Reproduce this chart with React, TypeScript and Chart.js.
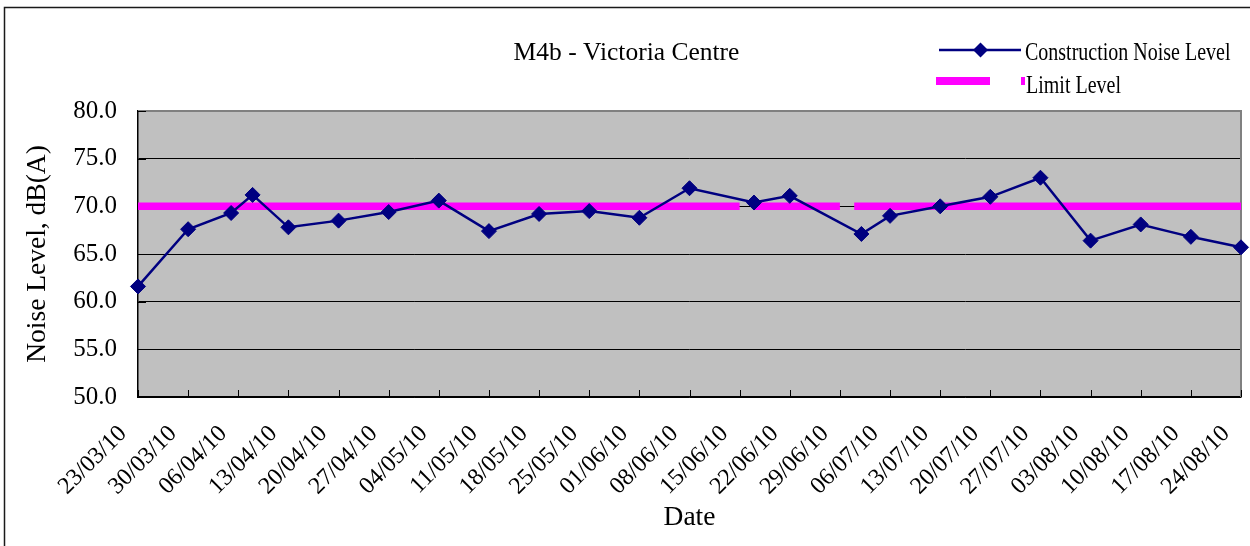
import React, { useEffect, useRef } from 'react';
import { Chart, registerables } from 'chart.js';

Chart.register(...registerables);

// ---- data ----
const chartTitle = 'M4b - Victoria Centre';
const yAxisTitle = 'Noise Level, dB(A)';
const xAxisTitle = 'Date';
const noiseLabel = 'Construction Noise Level';
const limitLabel = 'Limit Level';

const noiseDates = [
  '23/03/10', '30/03/10', '05/04/10', '08/04/10', '13/04/10', '20/04/10', '27/04/10',
  '04/05/10', '11/05/10', '18/05/10', '25/05/10', '01/06/10', '08/06/10', '17/06/10',
  '22/06/10', '02/07/10', '06/07/10', '13/07/10', '20/07/10', '27/07/10', '03/08/10',
  '10/08/10', '17/08/10', '24/08/10',
];
const noiseValues = [
  61.6, 67.6, 69.3, 71.2, 67.8, 68.5, 69.4,
  70.6, 67.4, 69.2, 69.5, 68.8, 71.9, 70.4,
  71.1, 67.1, 69.0, 70.0, 71.0, 73.0, 66.4,
  68.1, 66.8, 65.7,
];

const limitDates = ['23/03/10', '15/06/10', '16/06/10', '17/06/10', '29/06/10', '30/06/10', '01/07/10', '24/08/10'];
const limitValues = [70, 70, null, 70, 70, null, 70, 70];

const xTickLabels = [
  '23/03/10', '30/03/10', '06/04/10', '13/04/10', '20/04/10', '27/04/10', '04/05/10',
  '11/05/10', '18/05/10', '25/05/10', '01/06/10', '08/06/10', '15/06/10', '22/06/10',
  '29/06/10', '06/07/10', '13/07/10', '20/07/10', '27/07/10', '03/08/10', '10/08/10',
  '17/08/10', '24/08/10',
];
const yTickValues = [50, 55, 60, 65, 70, 75, 80];

// ---- helpers ----
const toUTC = (s: string) => {
  const [d, m, y] = s.split('/').map(Number);
  return Date.UTC(2000 + y, m - 1, d);
};
const BASE = toUTC(xTickLabels[0]);
const dayIndex = (s: string) => Math.round((toUTC(s) - BASE) / 86400000);

const FONT = '"Liberation Serif", "Times New Roman", serif';
const NAVY = '#000080';
const MAGENTA = '#FF00FF';

const backgroundPlugin = {
  id: 'excelBackground',
  beforeDraw(chart: any) {
    const { ctx, chartArea } = chart;
    ctx.save();
    ctx.fillStyle = '#ffffff';
    ctx.fillRect(0, 0, chart.width, chart.height);
    ctx.fillStyle = '#C0C0C0';
    ctx.fillRect(chartArea.left, chartArea.top, chartArea.right - chartArea.left, chartArea.bottom - chartArea.top);
    // outer chart border (top & left visible)
    ctx.strokeStyle = '#1a1a1a';
    ctx.lineWidth = 1.5;
    ctx.strokeRect(4.5, 7.5, chart.width + 20, chart.height + 20);
    ctx.restore();
  },
  beforeDatasetsDraw(chart: any) {
    const { ctx, chartArea, scales } = chart;
    ctx.save();
    // gray plot border top & right
    ctx.strokeStyle = '#808080';
    ctx.lineWidth = 2;
    ctx.beginPath();
    ctx.moveTo(chartArea.left, chartArea.top);
    ctx.lineTo(chartArea.right, chartArea.top);
    ctx.lineTo(chartArea.right, chartArea.bottom);
    ctx.stroke();
    // inside tick marks
    ctx.strokeStyle = '#000';
    ctx.lineWidth = 1;
    ctx.beginPath();
    scales.x.ticks.forEach((t: any) => {
      const px = Math.round(scales.x.getPixelForValue(t.value)) + 0.5;
      ctx.moveTo(px, chartArea.bottom);
      ctx.lineTo(px, chartArea.bottom - 7);
    });
    scales.y.ticks.forEach((t: any) => {
      const py = Math.round(scales.y.getPixelForValue(t.value)) + 0.5;
      ctx.moveTo(chartArea.left, py);
      ctx.lineTo(chartArea.left + 8, py);
    });
    ctx.stroke();
    ctx.restore();
  },
};

const legendPlugin = {
  id: 'excelLegend',
  afterDraw(chart: any) {
    const { ctx, chartArea } = chart;
    const x0 = chartArea.right - 302; // start of first legend line
    ctx.save();
    // item 1: line + diamond
    ctx.strokeStyle = NAVY;
    ctx.lineWidth = 2.5;
    ctx.beginPath();
    ctx.moveTo(x0, 50);
    ctx.lineTo(x0 + 82, 50);
    ctx.stroke();
    ctx.fillStyle = NAVY;
    const cx = x0 + 41.5;
    const r = 7.5;
    ctx.beginPath();
    ctx.moveTo(cx - r, 50);
    ctx.lineTo(cx, 50 - r);
    ctx.lineTo(cx + r, 50);
    ctx.lineTo(cx, 50 + r);
    ctx.closePath();
    ctx.fill();
    // item 2: magenta bar + tiny mark
    ctx.fillStyle = MAGENTA;
    ctx.fillRect(x0 - 3, 77, 54, 8);
    ctx.fillRect(x0 + 82, 77, 4, 8);
    // texts (condensed like the original font)
    ctx.fillStyle = '#000';
    ctx.font = `25px ${FONT}`;
    ctx.textBaseline = 'alphabetic';
    ctx.textAlign = 'left';
    ctx.save();
    ctx.translate(x0 + 86, 60);
    ctx.scale(0.8, 1);
    ctx.fillText(noiseLabel, 0, 0);
    ctx.restore();
    ctx.save();
    ctx.translate(x0 + 87, 93);
    ctx.scale(0.8, 1);
    ctx.fillText(limitLabel, 0, 0);
    ctx.restore();
    ctx.restore();
  },
};

export default function App() {
  const canvasRef = useRef<HTMLCanvasElement | null>(null);

  useEffect(() => {
    document.body.style.margin = '0';
    const canvas = canvasRef.current;
    if (!canvas) return;

    const noiseData = noiseDates.map((d, i) => ({ x: dayIndex(d), y: noiseValues[i] }));
    const limitData = limitDates.map((d, i) => ({ x: dayIndex(d), y: limitValues[i] }));

    const chart = new Chart(canvas, {
      type: 'line',
      data: {
        datasets: [
          {
            label: noiseLabel,
            data: noiseData as any,
            borderColor: NAVY,
            backgroundColor: NAVY,
            borderWidth: 2.5,
            pointStyle: 'rectRot',
            pointRadius: 7.5,
            pointBorderWidth: 1,
            pointBorderColor: NAVY,
            pointBackgroundColor: NAVY,
            tension: 0,
            clip: false as any,
          },
          {
            label: limitLabel,
            data: limitData as any,
            borderColor: MAGENTA,
            backgroundColor: MAGENTA,
            borderWidth: 7.5,
            borderCapStyle: 'butt',
            pointRadius: 0,
            tension: 0,
            spanGaps: false,
          },
        ],
      },
      options: {
        responsive: false,
        animation: false,
        events: [],
        layout: { padding: { left: 12, right: 9, top: 0, bottom: 0 } },
        plugins: {
          legend: { display: false },
          tooltip: { enabled: false },
          title: {
            display: true,
            text: chartTitle,
            color: '#000',
            font: { family: FONT, size: 25.5, weight: 'normal' },
            padding: { top: 37.7, bottom: 42.7 },
          },
        },
        scales: {
          x: {
            type: 'linear',
            min: dayIndex(xTickLabels[0]),
            max: dayIndex(xTickLabels[xTickLabels.length - 1]),
            afterBuildTicks: (s: any) => {
              s.ticks = xTickLabels.map((l) => ({ value: dayIndex(l) }));
            },
            afterFit: (s: any) => {
              s.height = 149;
              s.paddingLeft = 0;
              s.paddingRight = 0;
            },
            ticks: {
              autoSkip: false,
              minRotation: 45,
              maxRotation: 45,
              labelOffset: -15,
              padding: 23,
              color: '#000',
              font: { family: FONT, size: 24 },
              callback: (_v: any, i: number) => xTickLabels[i],
            },
            grid: { display: false, drawTicks: false },
            border: { display: true, color: '#000', width: 1.5 },
            title: {
              display: true,
              text: xAxisTitle,
              color: '#000',
              font: { family: FONT, size: 27.5 },
              padding: { top: 0, bottom: 11.5 },
            },
          },
          y: {
            min: 50,
            max: 80,
            afterBuildTicks: (s: any) => {
              s.ticks = yTickValues.map((v) => ({ value: v }));
            },
            afterFit: (s: any) => {
              s.width = 126;
              s.paddingTop = 0;
              s.paddingBottom = 0;
            },
            ticks: {
              padding: 21,
              color: '#000',
              font: { family: FONT, size: 25 },
              callback: (v: any) => Number(v).toFixed(1),
            },
            grid: { color: '#000', lineWidth: 1, drawTicks: false },
            border: { display: true, color: '#000', width: 1.5 },
            title: {
              display: true,
              text: yAxisTitle,
              color: '#000',
              font: { family: FONT, size: 27.5 },
              padding: { top: 9.5, bottom: 0 },
            },
          },
        },
      },
      plugins: [backgroundPlugin, legendPlugin],
    });

    return () => chart.destroy();
  }, []);

  return (
    <div style={{ width: 1250, height: 546 }}>
      <canvas ref={canvasRef} width={1250} height={546} style={{ display: 'block' }} />
    </div>
  );
}
